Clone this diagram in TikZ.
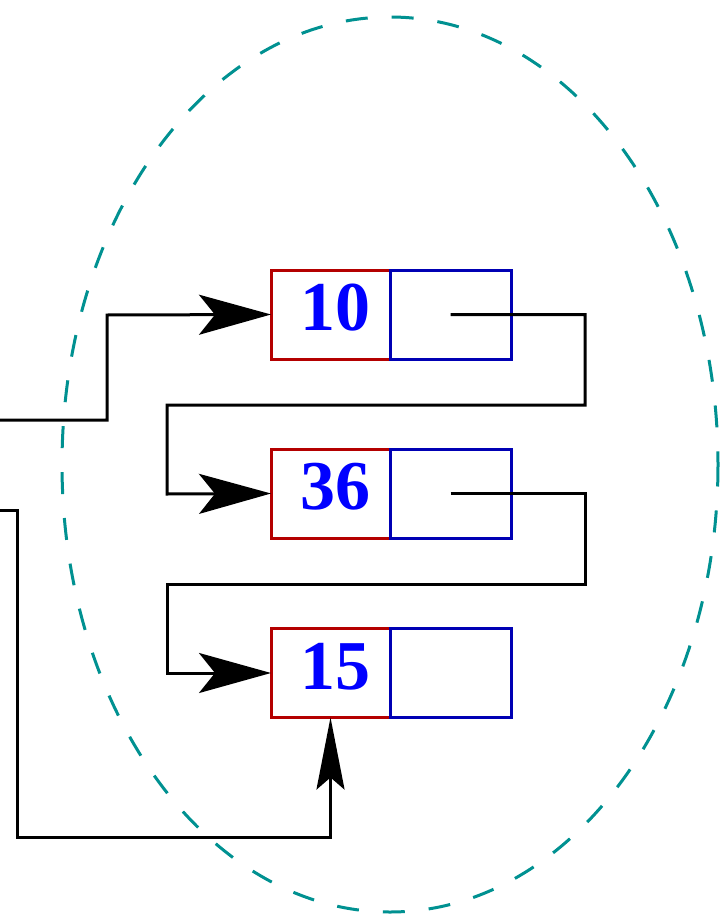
\documentclass[tikz,border=0pt]{standalone}
\usepackage{fontspec}
\setmainfont{Liberation Serif}
\usetikzlibrary{arrows.meta,positioning,shapes.geometric}
\definecolor{cellred}{RGB}{180,0,0}
\definecolor{cellblue}{RGB}{0,0,180}
\definecolor{numblue}{RGB}{0,0,255}
\definecolor{setteal}{RGB}{0,145,145}

\begin{document}
\begin{tikzpicture}[x=0.5pt, y=-0.5pt,
  valbox/.style={rectangle, draw=cellred, line width=1.5pt, outer sep=0pt,
    minimum width=59.5pt, minimum height=44.5pt, inner sep=0pt, text depth=7pt,
    execute at begin node=\hspace*{5pt},
    text=numblue, font=\fontsize{35}{35}\selectfont\bfseries},
  ptrbox/.style={rectangle, draw=cellblue, line width=1.5pt, outer sep=0pt,
    minimum width=60.5pt, minimum height=44.5pt},
  link/.style={line width=1.5pt, -{Stealth[length=36pt, width=20pt, inset=8pt]}},
  uplink/.style={line width=1.5pt, -{Stealth[length=36pt, width=14pt, inset=6pt]}}]

  \useasboundingbox (0,0) rectangle (719,920);

  % the set boundary
  \draw[setteal, line width=1.5pt, dash pattern=on 11pt off 12pt]
    (390,464.5) ellipse [x radius=328, y radius=447.5];

  % list cells
  \node[valbox] (v10) at (330.5,314.5) {10};
  \node[ptrbox, right=0pt of v10] (p10) {};
  \node[valbox] (v36) at (330.5,493.5) {36};
  \node[ptrbox, right=0pt of v36] (p36) {};
  \node[valbox] (v15) at (330.5,673) {15};
  \node[ptrbox, right=0pt of v15] (p15) {};

  % head and tail pointers come in from outside
  \coordinate (head) at (0,420);
  \coordinate (tail) at (0,510);

  % next links
  \draw[link] (p10.center) -| (585,405) -| (167,494) -- (v36.west);
  \draw[link] (p36.center) -| (585,584) -| (167,673) -- (v15.west);

  \draw[link] (head) -| (107,315) -- (v10.west);
  \draw[uplink] (tail) -| (17,837) -| (v15.south);
\end{tikzpicture}
\end{document}
